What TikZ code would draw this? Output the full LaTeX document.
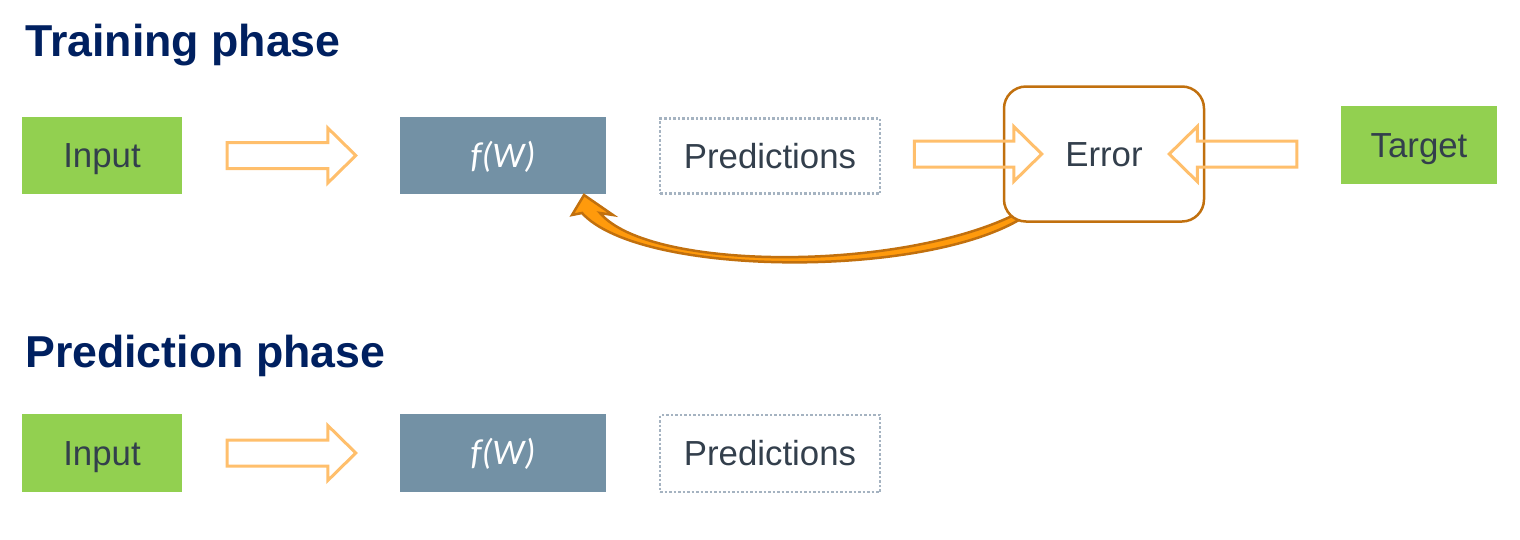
\documentclass[tikz,border=0pt]{standalone}
\usepackage{fontspec}
\setmainfont{Liberation Sans}
\newfontfamily\carlito{Carlito}
\usepackage{xcolor}
\usetikzlibrary{calc}

\definecolor{headblue}{HTML}{002060}
\definecolor{boxgreen}{HTML}{92D050}
\definecolor{boxslate}{HTML}{7391A5}
\definecolor{txtdark}{HTML}{333F4C}
\definecolor{dotgray}{HTML}{A5B3C1}
\definecolor{arrowpeach}{HTML}{FFBF6C}
\definecolor{errbrown}{HTML}{C1700E}
\definecolor{loopfill}{HTML}{FF9A0C}

% hollow block arrow from tail #1 to tip #2
\newcommand{\blockarrow}[2]{%
  \coordinate (ab) at ($(#2)!28pt!(#1)$);
  \draw[hollow] ($(#1)!13pt!90:(#2)$) -- ($(ab)!13pt!90:(#2)$) -- ($(ab)!27.5pt!90:(#2)$)
    -- (#2) -- ($(ab)!27.5pt!-90:(#2)$) -- ($(ab)!13pt!-90:(#2)$) -- ($(#1)!13pt!-90:(#2)$) -- cycle;
}

\begin{document}
\begin{tikzpicture}[x=1pt, y=-1pt,
    boxtext/.style={font=\fontsize{34.8}{40}\selectfont, text=txtdark, text height=24.9pt, text depth=0pt, inner sep=0pt},
    greenbox/.style={boxtext, fill=boxgreen, minimum width=160pt, minimum height=77pt},
    fbox/.style={fill=boxslate, text=white, font=\carlito\itshape\fontsize{36}{40}\selectfont, text height=23pt, text depth=0pt, inner sep=0pt, minimum width=206pt, minimum height=77pt},
    predbox/.style={boxtext, draw=dotgray, line width=2.5pt, dash pattern=on 2.5pt off 2pt, minimum width=220pt, minimum height=75pt},
    errbox/.style={boxtext, draw=errbrown, fill=white, line width=2.5pt, rounded corners=22pt, minimum width=200pt, minimum height=135pt},
    hollow/.style={draw=arrowpeach, line width=3pt, line join=miter},
    phase/.style={font=\bfseries\fontsize{44.7}{50}\selectfont, text=headblue, anchor=base west, inner sep=0pt}]
    \useasboundingbox (0,0) rectangle (1520,539);

    \node[phase] (train) at (25,56) {Training phase};
    \node[phase] (predict) at (25,367) {Prediction phase};

    \node[greenbox] (in1) at (102,155.5) {Input};
    \node[fbox] (fw1) at (503,155.5) {f(W)};
    \node[predbox] (pred1) at (770,156) {Predictions};
    \node[greenbox, minimum width=156pt, minimum height=78pt] (tgt) at (1419,145) {Target};

    \filldraw[fill=loopfill, draw=errbrown, line width=2.5pt, line join=miter]
        (584,195) -- (613,215) -- (600,213)
        .. controls (650,272) and (905,272) .. (1020,212)
        -- (1023,217.5)
        .. controls (925,279) and (640,277) .. (582,213)
        -- (572,215) -- cycle;

    \node[errbox] (err) at (1104,154) {Error};

    \node[greenbox, minimum height=78pt] (in2) at (102,453) {Input};
    \node[fbox, minimum height=78pt] (fw2) at (503,453) {f(W)};
    \node[predbox, minimum height=77pt] (pred2) at (770,453.5) {Predictions};

    \coordinate (a1s) at ([xshift=45pt]in1.east);
    \coordinate (a1e) at ([xshift=-44pt]fw1.west);
    \coordinate (a2s) at ([xshift=33pt, yshift=2pt]pred1.east);
    \coordinate (a2e) at ([xshift=39pt]err.west);
    \coordinate (a3s) at ([xshift=-44pt, yshift=-9pt]tgt.west);
    \coordinate (a3e) at ([xshift=-36pt]err.east);
    \coordinate (a4s) at ([xshift=45pt]in2.east);
    \coordinate (a4e) at ([xshift=-44pt]fw2.west);

    \blockarrow{a1s}{a1e}
    \blockarrow{a2s}{a2e}
    \blockarrow{a3s}{a3e}
    \blockarrow{a4s}{a4e}
\end{tikzpicture}
\end{document}
